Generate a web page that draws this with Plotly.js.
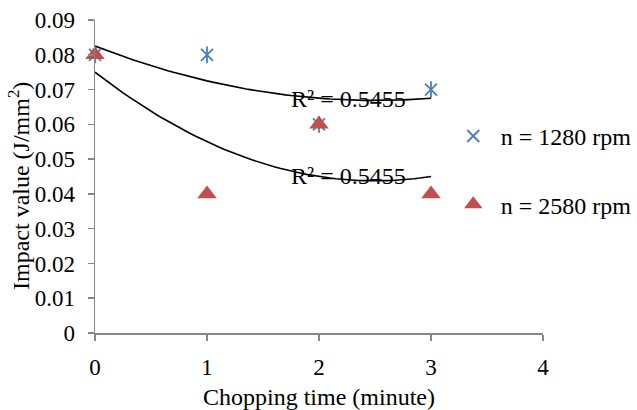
<!DOCTYPE html>
<html>
<head>
<meta charset="utf-8">
<script src="https://cdn.plot.ly/plotly-3.0.1.min.js"></script>
<style>html,body{margin:0;padding:0;background:#fff;}#chart{width:637px;height:410px;}</style>
</head>
<body>
<div id="chart"></div>
<script>
var timeMin = [0, 1, 2, 3];
var impact1280 = [0.08, 0.08, 0.06, 0.07];
var impact2580 = [0.08, 0.04, 0.06, 0.04];
var seriesNames = ['n = 1280 rpm', 'n = 2580 rpm'];
var r2Labels = ['R² = 0.5455', 'R² = 0.5455'];
var xTicks = [0, 1, 2, 3, 4];
var yTicks = [0, 0.01, 0.02, 0.03, 0.04, 0.05, 0.06, 0.07, 0.08, 0.09];

// Least-squares polynomial (order 2) trendline, as in the spreadsheet chart
function polyFit2(xs, ys) {
  var n = xs.length, s = [0,0,0,0,0], t = [0,0,0];
  for (var i = 0; i < n; i++) {
    var x = xs[i], y = ys[i];
    for (var k = 0; k < 5; k++) s[k] += Math.pow(x, k);
    for (var k2 = 0; k2 < 3; k2++) t[k2] += y * Math.pow(x, k2);
  }
  var A = [[s[0], s[1], s[2], t[0]], [s[1], s[2], s[3], t[1]], [s[2], s[3], s[4], t[2]]];
  for (var c = 0; c < 3; c++) {
    for (var r = c + 1; r < 3; r++) {
      var f = A[r][c] / A[c][c];
      for (var j = c; j < 4; j++) A[r][j] -= f * A[c][j];
    }
  }
  var coef = [0, 0, 0];
  for (var r3 = 2; r3 >= 0; r3--) {
    var v = A[r3][3];
    for (var j2 = r3 + 1; j2 < 3; j2++) v -= A[r3][j2] * coef[j2];
    coef[r3] = v / A[r3][r3];
  }
  return coef;
}
function trend(xs, ys) {
  var c = polyFit2(xs, ys);
  var lo = Math.min.apply(null, xs), hi = Math.max.apply(null, xs);
  var tx = [], ty = [];
  for (var i = 0; i <= 60; i++) {
    var x = lo + (hi - lo) * i / 60;
    tx.push(x); ty.push(c[0] + c[1] * x + c[2] * x * x);
  }
  return {x: tx, y: ty};
}
var tr1 = trend(timeMin, impact1280);
var tr2 = trend(timeMin, impact2580);

var font = 'Liberation Serif, Times New Roman, serif';
var blue = '#4a7ebb';
var red = '#c0504d';

var data = [
  {x: tr1.x, y: tr1.y, mode: 'lines', line: {color: '#000', width: 1.6}, showlegend: false, hoverinfo: 'skip', cliponaxis: false},
  {x: tr2.x, y: tr2.y, mode: 'lines', line: {color: '#000', width: 1.6}, showlegend: false, hoverinfo: 'skip', cliponaxis: false},
  {x: timeMin, y: impact1280, mode: 'markers', name: seriesNames[0], legendgroup: 'a', cliponaxis: false,
   marker: {symbol: 'x-thin-open', size: 12, line: {color: blue, width: 1.8}, color: blue}},
  {x: timeMin, y: impact1280, mode: 'markers', name: seriesNames[0], legendgroup: 'a', showlegend: false, cliponaxis: false,
   marker: {symbol: 'line-ns-open', size: 12, line: {color: blue, width: 1.8}, color: blue}},
  {x: timeMin, y: impact2580, mode: 'markers', name: seriesNames[1], legendgroup: 'b', cliponaxis: false,
   marker: {symbol: 'triangle-up', size: 17, color: red, line: {width: 0}}}
];

var layout = {
  width: 637, height: 410,
  margin: {l: 95, r: 94, t: 20, b: 77, pad: 0, autoexpand: false},
  paper_bgcolor: '#fff', plot_bgcolor: '#fff',
  font: {family: font, size: 24, color: '#000'},
  showlegend: true,
  legend: {x: 0.783, y: 0.70, xanchor: 'left', yanchor: 'top', bgcolor: 'rgba(0,0,0,0)',
           font: {family: font, size: 24, color: '#000'}, tracegroupgap: 34, itemwidth: 45},
  xaxis: {range: [0, 4], tickvals: xTicks, ticktext: xTicks.map(String), showgrid: false, zeroline: false,
          showline: true, linecolor: '#868686', linewidth: 1.5, ticks: 'outside', ticklen: 6, tickwidth: 1.5,
          tickcolor: '#868686', ticklabelstandoff: 7, fixedrange: true, tickfont: {family: font, size: 23},
          automargin: false,
          title: {text: 'Chopping time (minute)', font: {family: font, size: 24}, standoff: 10}},
  yaxis: {range: [0, 0.09], tickvals: yTicks, ticktext: yTicks.map(function(v){return v === 0 ? '0' : v.toFixed(2);}),
          showgrid: false, zeroline: false, showline: true, linecolor: '#868686', linewidth: 1.5,
          tickfont: {family: font, size: 23}, automargin: false,
          ticks: 'outside', ticklen: 6, tickwidth: 1.5, tickcolor: '#868686', ticklabelstandoff: 8, fixedrange: true},
  annotations: [
    {xref: 'paper', yref: 'paper', x: -76/448, y: (333-186)/313, text: 'Impact value (J/mm<sup>2</sup>)',
     textangle: -90, showarrow: false, xanchor: 'center', yanchor: 'middle', font: {family: font, size: 24}},
    {xref: 'x', yref: 'y', x: 2.26, y: 0.0672, text: r2Labels[0], showarrow: false, font: {family: font, size: 24}},
    {xref: 'x', yref: 'y', x: 2.26, y: 0.0451, text: r2Labels[1], showarrow: false, font: {family: font, size: 24}}
  ]
};
Plotly.newPlot('chart', data, layout, {displayModeBar: false, staticPlot: true});
</script>
</body>
</html>
